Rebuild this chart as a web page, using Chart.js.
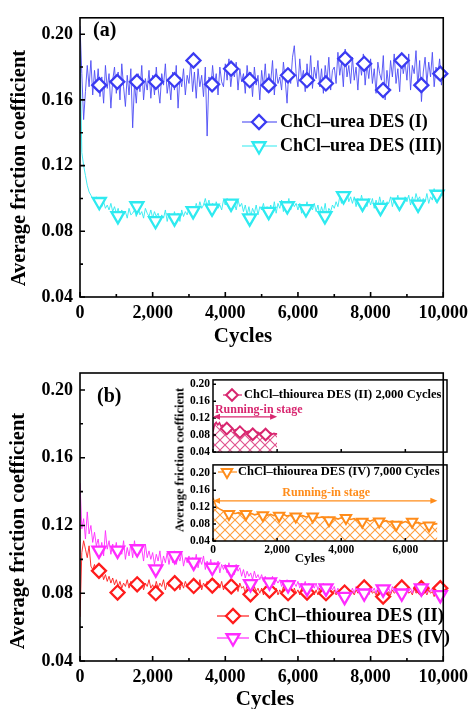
<!DOCTYPE html>
<html>
<head>
<meta charset="utf-8">
<script src="https://cdn.jsdelivr.net/npm/chart.js@4.4.0/dist/chart.umd.min.js"></script>
<style>
  body { margin: 0; background: #fff; width: 474px; height: 709px; position: relative; overflow: hidden; }
  canvas { position: absolute; }
  #insetTitle {
    position: absolute; left: 180px; top: 460px; white-space: nowrap;
    transform: translate(-50%, -50%) rotate(-90deg);
    font: bold 12.5px "Liberation Serif", serif; color: #000;
  }
</style>
</head>
<body>
<canvas id="chartA" width="474" height="350" style="left:0;top:0"></canvas>
<canvas id="chartB" width="474" height="359" style="left:0;top:350px"></canvas>
<canvas id="insetII" width="285" height="92" style="left:170px;top:370px"></canvas>
<canvas id="insetIV" width="285" height="115" style="left:170px;top:455px"></canvas>
<div id="insetTitle">Average friction coefficient</div>
<script>
// traces sampled every 50 cycles, values in 1/1000
const STEP = 50;
const desI = [
  205,176,148,165,181,168,184,163,178,166,
  179,162,174,158,181,167,176,155,172,180,
  164,177,160,182,168,156,175,163,179,143,
  170,158,176,165,181,160,173,166,178,161,
  175,163,180,167,158,176,169,182,164,172,
  160,177,166,181,155,174,168,179,163,175,
  170,183,165,177,161,179,168,175,162,180,
  138,174,166,181,169,176,163,180,171,168,
  182,172,185,168,178,174,183,166,179,171,
  176,164,181,170,177,162,180,169,175,160,
  178,168,182,165,176,171,184,163,179,170,
  174,166,183,172,158,179,170,186,193,176,
  168,185,172,178,165,182,170,187,167,180,
  173,184,168,179,164,181,171,186,166,178,
  180,170,189,175,183,168,191,174,181,170,
  186,172,180,166,184,175,188,169,182,173,
  185,170,179,164,183,176,172,187,160,178,
  168,184,174,188,170,179,165,186,176,183,
  172,188,166,181,176,190,168,184,159,177,
  186,170,183,174,189,168,180,175,185,169,
  178
];
const desIII = [
  190,128,120,114,108,104,102,100,99,101,
  97,99,95,98,94,96,93,97,92,95,
  91,94,89,93,90,92,88,94,90,91,
  93,89,95,90,92,88,94,91,89,93,
  88,92,89,91,87,90,88,93,86,91,
  89,87,92,88,91,86,93,89,92,90,
  94,91,95,92,97,93,98,94,96,100,
  95,99,93,97,92,98,94,96,93,99,
  96,100,94,98,95,97,93,99,95,97,
  92,96,90,95,89,94,91,96,90,95,
  93,97,91,95,90,96,92,98,91,97,
  94,99,92,97,95,100,93,98,95,97,
  93,97,91,96,94,98,92,96,93,97,
  92,96,90,95,91,97,89,94,92,96,
  94,98,95,101,97,103,99,104,98,101,
  97,101,95,100,96,102,97,99,95,100,
  96,100,94,99,95,101,96,99,94,98,
  97,101,95,100,98,102,96,100,97,101,
  98,102,96,101,97,103,99,101,96,100,
  98,103,97,101,99,106,98,102,100,104,
  101
];
const desII = [
  66,104,111,106,101,108,96,94,97,92,
  95,90,93,88,91,87,90,86,89,85,
  88,84,87,83,86,84,88,83,87,84,
  86,83,88,84,87,82,86,84,88,83,
  85,82,87,83,86,84,88,82,86,84,
  87,83,86,84,88,82,86,83,87,84,
  86,82,87,84,85,83,88,82,86,84,
  87,83,86,82,88,84,86,83,87,82,
  85,83,87,82,86,84,85,81,86,83,
  84,80,85,82,83,79,84,81,83,80,
  83,79,84,81,82,78,84,80,83,79,
  82,80,84,79,83,81,82,78,83,80,
  82,79,83,80,82,78,83,80,81,79,
  82,79,83,80,81,78,82,80,81,79,
  82,79,81,78,82,80,81,79,82,80,
  81,79,82,80,81,78,82,80,81,79,
  82,80,81,79,82,78,81,80,82,79,
  81,79,82,80,81,79,82,80,81,80,
  82,80,81,79,83,80,81,79,82,80,
  81,79,82,80,81,78,82,80,81,79,
  80
];
const desIV = [
  145,118,124,112,128,115,120,110,116,108,
  112,104,110,102,117,106,111,103,109,104,
  110,101,108,103,111,100,107,102,109,101,
  111,102,108,104,106,99,109,101,105,100,
  104,97,103,99,105,96,102,98,104,97,
  103,98,105,97,102,99,104,96,101,98,
  102,96,101,97,103,95,100,97,102,94,
  99,95,100,93,98,94,99,92,97,94,
  97,92,98,93,96,91,97,93,95,90,
  94,89,93,90,92,88,93,89,91,88,
  91,87,90,86,89,87,90,85,88,86,
  88,84,87,85,88,83,87,85,86,84,
  87,83,86,84,87,82,86,84,85,83,
  86,82,85,83,86,81,85,83,84,82,
  84,80,83,79,82,80,83,78,82,80,
  83,80,84,81,83,79,84,81,83,80,
  84,81,83,80,84,81,83,80,84,81,
  83,80,84,81,83,80,84,82,83,80,
  84,81,83,80,84,81,83,80,84,81,
  83,80,84,81,83,79,83,81,82,80,
  80
];

// symbols
const markXI   = [531,1026,1566,2088,2601,3123,3636,4158,4671,5194,5725,6247,6769,7300,7822,8344,8857,9397,9919];
const markI    = [0.169,0.171,0.171,0.171,0.172,0.184,0.1695,0.179,0.172,0.169,0.175,0.172,0.170,0.185,0.182,0.166,0.184,0.169,0.176];
const markXIII = [531,1044,1566,2079,2601,3114,3636,4158,4671,5194,5707,6220,6742,7255,7777,8272,8794,9307,9829];
const markIII  = [0.098,0.0894,0.0954,0.0864,0.088,0.0924,0.094,0.097,0.088,0.092,0.0954,0.0936,0.0894,0.1016,0.097,0.0944,0.0976,0.0964,0.1024];
const markXB   = [522,1034,1574,2086,2608,3129,3642,4164,4694,5216,5728,6250,6772,7284,7824,8345,8858,9397,9919];
const markII   = [0.0932,0.0804,0.0853,0.080,0.0859,0.0843,0.0845,0.084,0.0794,0.0816,0.080,0.0804,0.080,0.0804,0.0834,0.078,0.0834,0.083,0.083];
const markIV   = [0.1053,0.1053,0.1061,0.0942,0.1021,0.0982,0.0952,0.0938,0.0855,0.0865,0.0849,0.083,0.083,0.078,0.080,0.0824,0.080,0.083,0.079];

// inset traces
const INS_STEP_II = 50;
const insII = [
  88,106,110,104,109,101,103,97,99,95,
  97,93,95,91,93,90,92,89,91,88,
  90,87,89,86,88,85,87,85,87,84,
  86,84,86,83,85,83,85,82,84,83,
  83
];
const INS_STEP_IV = 100;
const insIV = [
  142,121,116,112,109,107,106,105,107,104,
  106,103,105,102,104,102,105,101,103,100,
  102,100,103,99,101,99,102,98,100,97,
  99,97,98,95,97,94,96,93,95,92,
  95,92,94,91,93,89,92,88,91,87,
  90,87,89,86,88,85,87,84,86,83,
  86,83,85,82,84,81,83,80,82,80,
  81
];
const markXInsII = [430,840,1240,1640];
const markInsII  = [0.0954,0.087,0.0821,0.0814];
const markXInsIV = [497,1026,1556,2063,2582,3111,3619,4148,4656,5185,5714,6212,6741];
const markInsIV  = [0.104,0.104,0.101,0.100,0.0977,0.0977,0.089,0.0945,0.0855,0.086,0.0787,0.0855,0.0768];

// ticks
const yTicks = [0.04, 0.08, 0.12, 0.16, 0.20];
const xTicksMain = [0, 2000, 4000, 6000, 8000, 10000];
const xTicksInset = [0, 2000, 4000, 6000];

const SERIF = '"Liberation Serif", "Times New Roman", serif';
Chart.defaults.font.family = SERIF;
Chart.defaults.font.weight = 'bold';
Chart.defaults.color = '#000';

const trace = (vals, step) => vals.map((v, i) => ({ x: i * step, y: v / 1000 }));
const marks = (xs, ys) => xs.map((x, i) => ({ x, y: ys[i] }));

// box + inward ticks
const frame = {
  id: 'frame',
  afterDraw(chart, args, o) {
    const { ctx, chartArea: a, scales: { x, y } } = chart;
    ctx.save();
    ctx.strokeStyle = '#000';
    ctx.lineWidth = o.width;
    ctx.strokeRect(a.left, a.top, a.right - a.left, a.bottom - a.top);
    ctx.beginPath();
    const put = (scale, step, len, onX) => {
      if (!step) return;
      const n0 = Math.ceil(scale.min / step - 1e-6), n1 = Math.floor(scale.max / step + 1e-6);
      for (let n = n0; n <= n1; n++) {
        const p = scale.getPixelForValue(n * step);
        if (onX) { ctx.moveTo(p, a.bottom); ctx.lineTo(p, a.bottom - len); }
        else { ctx.moveTo(a.left, p); ctx.lineTo(a.left + len, p); }
      }
    };
    put(x, o.xMajor, o.len, true);
    put(x, o.xMinor, o.minorLen, true);
    put(y, o.yMajor, o.len, false);
    put(y, o.yMinor, o.minorLen, false);
    ctx.stroke();
    ctx.restore();
  }
};

// legend keys, labels, arrows, axis titles
const deco = {
  id: 'deco',
  afterDraw(chart, args, o) {
    const { ctx, scales: { x, y } } = chart;
    ctx.save();
    (o.arrows || []).forEach(a => {
      const p0 = x.getPixelForValue(a.from), p1 = x.getPixelForValue(a.to), py = y.getPixelForValue(a.at);
      ctx.strokeStyle = ctx.fillStyle = a.color;
      ctx.lineWidth = 1.4;
      ctx.beginPath(); ctx.moveTo(p0 + 3, py); ctx.lineTo(p1 - 3, py); ctx.stroke();
      [[p0, 1], [p1, -1]].forEach(([p, d]) => {
        ctx.beginPath(); ctx.moveTo(p, py); ctx.lineTo(p + 7 * d, py - 3); ctx.lineTo(p + 7 * d, py + 3);
        ctx.closePath(); ctx.fill();
      });
    });
    (o.keys || []).forEach(k => {
      ctx.strokeStyle = k.color;
      ctx.lineWidth = k.lineWidth || 1.2;
      ctx.beginPath(); ctx.moveTo(k.x0, k.y); ctx.lineTo(k.x1, k.y); ctx.stroke();
      ctx.fillStyle = '#fff';
      ctx.lineWidth = k.borderWidth;
      Chart.helpers.drawPoint(ctx, { pointStyle: k.style, rotation: k.rotation || 0, radius: k.radius, borderWidth: k.borderWidth }, k.mx, k.y);
      ctx.fillStyle = '#000';
      ctx.font = k.font;
      ctx.textAlign = 'left';
      ctx.textBaseline = 'middle';
      ctx.fillText(k.text, k.tx, k.y);
    });
    (o.texts || []).forEach(t => {
      const px = t.data ? x.getPixelForValue(t.x) : t.x;
      const py = t.data ? y.getPixelForValue(t.y) : t.y;
      ctx.save();
      ctx.translate(px, py);
      if (t.rot) ctx.rotate(t.rot);
      ctx.fillStyle = t.color || '#000';
      ctx.font = t.font;
      ctx.textAlign = t.align || 'left';
      ctx.textBaseline = 'middle';
      ctx.fillText(t.text, 0, 0);
      ctx.restore();
    });
    ctx.restore();
  }
};

function hatch(color) {
  const c = document.createElement('canvas');
  c.width = c.height = 10;
  const g = c.getContext('2d');
  g.strokeStyle = color;
  g.lineWidth = 1.1;
  g.beginPath();
  g.moveTo(0, 0); g.lineTo(10, 10);
  g.moveTo(10, 0); g.lineTo(0, 10);
  g.stroke();
  return g.createPattern(c, 'repeat');
}

function lineSet(data, color, width) {
  return { data, borderColor: color, borderWidth: width, pointRadius: 0, tension: 0, order: 2 };
}
function markSet(data, color, style, radius, rot, bw) {
  return {
    data, showLine: false, pointStyle: style, pointRadius: radius, pointRotation: rot || 0,
    pointBorderColor: color, pointBackgroundColor: '#fff', pointBorderWidth: bw, clip: 12, order: 0
  };
}

function mainScales(xHeight) {
  return {
    x: {
      type: 'linear', min: 0, max: 10000,
      afterBuildTicks: s => { s.ticks = xTicksMain.map(v => ({ value: v })); },
      afterFit: s => { s.height = xHeight; },
      grid: { display: false, drawTicks: false }, border: { display: false },
      ticks: { callback: v => v.toLocaleString('en-US'), font: { size: 18, weight: 'bold' }, padding: 6, maxRotation: 0, autoSkip: false }
    },
    y: {
      min: 0.04, max: 0.21,
      afterBuildTicks: s => { s.ticks = yTicks.map(v => ({ value: v })); },
      afterFit: s => { s.width = 80; },
      grid: { display: false, drawTicks: false }, border: { display: false },
      ticks: { callback: v => v.toFixed(2), font: { size: 18, weight: 'bold' }, padding: 7 }
    }
  };
}

const BLUE = '#3b3bf2', CYAN = '#2eeaf0', RED = '#ff1c1c', MAG = '#ff2bff', PINK = '#d8266f', ORANGE = '#ff8c1a';
const frameMain = { width: 1.6, xMajor: 2000, xMinor: 1000, yMajor: 0.04, yMinor: 0.02, len: 5, minorLen: 3 };
const TITLE_FONT = 'bold 20.5px ' + SERIF;

new Chart(document.getElementById('chartA'), {
  type: 'line',
  data: {
    datasets: [
      markSet(marks(markXI, markI), BLUE, 'rectRot', 7, 0, 2.3),
      markSet(marks(markXIII, markIII), CYAN, 'triangle', 7.5, 180, 2.3),
      lineSet(trace(desI, STEP), '#4d4df5', 0.9),
      lineSet(trace(desIII, STEP), CYAN, 0.9)
    ]
  },
  options: {
    responsive: false, animation: false, events: [],
    layout: { padding: { top: 13, right: 23, left: 0, bottom: 0 } },
    plugins: {
      legend: { display: false }, tooltip: { enabled: false },
      frame: frameMain,
      deco: {
        keys: [
          { text: 'ChCl–urea DES (I)', color: BLUE, style: 'rectRot', radius: 7, borderWidth: 2.3, x0: 242, x1: 277, mx: 259, y: 122, tx: 280, font: 'bold 18px ' + SERIF },
          { text: 'ChCl–urea DES (III)', color: CYAN, style: 'triangle', rotation: 180, radius: 7.5, borderWidth: 2.3, x0: 242, x1: 277, mx: 259, y: 146, tx: 280, font: 'bold 18px ' + SERIF }
        ],
        texts: [
          { text: '(a)', x: 93, y: 31, font: 'bold 20px ' + SERIF },
          { text: 'Average friction coefficient', x: 20, y: 168, rot: -Math.PI / 2, align: 'center', font: TITLE_FONT },
          { text: 'Cycles', x: 243, y: 337, align: 'center', font: 'bold 21px ' + SERIF }
        ]
      }
    },
    scales: mainScales(53)
  },
  plugins: [frame, deco]
});

new Chart(document.getElementById('chartB'), {
  type: 'line',
  data: {
    datasets: [
      markSet(marks(markXB, markIV), MAG, 'triangle', 7.5, 180, 2.3),
      markSet(marks(markXB, markII), RED, 'rectRot', 7, 0, 2.3),
      lineSet(trace(desIV, STEP), MAG, 0.9),
      lineSet(trace(desII, STEP), RED, 0.9)
    ]
  },
  options: {
    responsive: false, animation: false, events: [],
    layout: { padding: { top: 23, right: 22, left: 0, bottom: 0 } },
    plugins: {
      legend: { display: false }, tooltip: { enabled: false },
      frame: frameMain,
      deco: {
        keys: [
          { text: 'ChCl–thiourea DES (II)', color: RED, style: 'rectRot', radius: 7, borderWidth: 2.3, x0: 217, x1: 249, mx: 233, y: 266, tx: 254, font: 'bold 18.5px ' + SERIF },
          { text: 'ChCl–thiourea DES (IV)', color: MAG, style: 'triangle', rotation: 180, radius: 7.5, borderWidth: 2.3, x0: 217, x1: 249, mx: 233, y: 288, tx: 254, font: 'bold 18.5px ' + SERIF }
        ],
        texts: [
          { text: '(b)', x: 97, y: 47, font: 'bold 20px ' + SERIF },
          { text: 'Average friction coefficient', x: 19, y: 181, rot: -Math.PI / 2, align: 'center', font: TITLE_FONT },
          { text: 'Cycles', x: 265, y: 350, align: 'center', font: 'bold 21px ' + SERIF }
        ]
      }
    },
    scales: mainScales(48)
  },
  plugins: [frame, deco]
});

function insetScales(yMax, xHeight, showX) {
  return {
    x: {
      type: 'linear', min: 0, max: 7300,
      afterBuildTicks: s => { s.ticks = xTicksInset.map(v => ({ value: v })); },
      afterFit: s => { s.height = xHeight; },
      grid: { display: false, drawTicks: false }, border: { display: false },
      ticks: { display: showX, callback: v => v.toLocaleString('en-US'), font: { size: 11.5, weight: 'bold' }, padding: 2, maxRotation: 0, autoSkip: false }
    },
    y: {
      min: 0.04, max: yMax,
      afterBuildTicks: s => { s.ticks = yTicks.map(v => ({ value: v })); },
      afterFit: s => { s.width = 43; },
      grid: { display: false, drawTicks: false }, border: { display: false },
      ticks: { callback: v => v.toFixed(2), font: { size: 11.5, weight: 'bold' }, padding: 3 }
    }
  };
}
const frameInset = { width: 1.5, xMajor: 2000, yMajor: 0.04, len: 3 };

new Chart(document.getElementById('insetII'), {
  type: 'line',
  data: {
    datasets: [
      markSet(marks(markXInsII, markInsII), PINK, 'rectRot', 5.8, 0, 2),
      Object.assign(lineSet(trace(insII, INS_STEP_II), PINK, 1.6), { fill: { value: 0.04 }, backgroundColor: hatch('rgba(216,38,111,0.8)') })
    ]
  },
  options: {
    responsive: false, animation: false, events: [],
    layout: { padding: { top: 8, right: 8, left: 0, bottom: 0 } },
    plugins: {
      legend: { display: false }, tooltip: { enabled: false },
      frame: frameInset,
      deco: {
        keys: [{ text: 'ChCl–thiourea DES (II) 2,000 Cycles', color: PINK, style: 'rectRot', radius: 5.8, borderWidth: 2, x0: 53, x1: 72, mx: 62, y: 25, tx: 74, font: 'bold 12.5px ' + SERIF }],
        arrows: [{ from: 0, to: 2000, at: 0.123, color: PINK }],
        texts: [{ text: 'Running-in stage', data: true, x: 60, y: 0.14, color: PINK, font: 'bold 12px ' + SERIF }]
      }
    },
    scales: insetScales(0.21, 2, false)
  },
  plugins: [frame, deco]
});

new Chart(document.getElementById('insetIV'), {
  type: 'line',
  data: {
    datasets: [
      markSet(marks(markXInsIV, markInsIV), ORANGE, 'triangle', 6, 180, 2),
      Object.assign(lineSet(trace(insIV, INS_STEP_IV), ORANGE, 1.6), { fill: { value: 0.04 }, backgroundColor: hatch('rgba(255,140,26,0.85)') })
    ]
  },
  options: {
    responsive: false, animation: false, events: [],
    layout: { padding: { top: 5, right: 8, left: 0, bottom: 0 } },
    plugins: {
      legend: { display: false }, tooltip: { enabled: false },
      frame: frameInset,
      deco: {
        keys: [{ text: 'ChCl–thiourea DES (IV) 7,000 Cycles', color: ORANGE, style: 'triangle', rotation: 180, radius: 6, borderWidth: 2, x0: 48, x1: 67, mx: 57, y: 17, tx: 68, font: 'bold 12.5px ' + SERIF }],
        arrows: [{ from: 0, to: 7000, at: 0.135, color: ORANGE }],
        texts: [
          { text: 'Running-in stage', data: true, x: 3530, y: 0.154, color: ORANGE, align: 'center', font: 'bold 12px ' + SERIF },
          { text: 'Cyles', x: 140, y: 104, align: 'center', font: 'bold 13px ' + SERIF }
        ]
      }
    },
    scales: insetScales(0.22, 29, true)
  },
  plugins: [frame, deco]
});
</script>
</body>
</html>
